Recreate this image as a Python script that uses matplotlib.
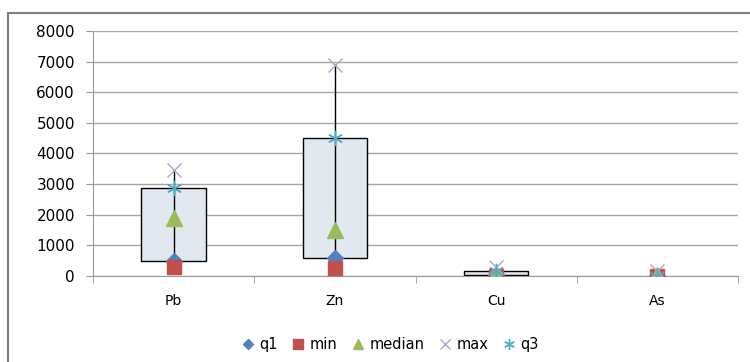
import matplotlib
matplotlib.use("Agg")
import matplotlib.pyplot as plt
from matplotlib.patches import Rectangle
import numpy as np

# data
elements = ["Pb", "Zn", "Cu", "As"]
q1 = [500, 600, 20, 10]
min_vals = [300, 270, 5, 5]
median = [1900, 1500, 60, 30]
max_vals = [3450, 6900, 280, 150]
q3 = [2870, 4500, 150, 10]

plt.rcParams['font.family'] = ['DejaVu Sans']

fig = plt.figure(figsize=(7.5, 3.62), dpi=100)
ax = fig.add_axes([0.124, 0.2376, 0.86, 0.6768])

x = np.arange(len(elements))
box_w = 0.4

# boxes (q1..q3) and hi-lo lines (min..max)
for xi, lo, hi, a, b in zip(x, min_vals, max_vals, q1, q3):
    if b > a:
        ax.add_patch(Rectangle((xi - box_w / 2, a), box_w, b - a,
                               facecolor="#e2e8f0", edgecolor="black", lw=1.0, zorder=2))
    ax.plot([xi, xi], [lo, hi], color="black", lw=1.0, zorder=3)

ax.plot(x, q1, ls="none", marker="D", ms=8, color="#4f81bd", label="q1", zorder=4)
ax.plot(x, min_vals, ls="none", marker="s", ms=10.5, color="#c0504d", label="min", zorder=4)
ax.plot(x, median, ls="none", marker="^", ms=11, color="#9bbb59", label="median", zorder=5)
ax.plot(x, max_vals, ls="none", marker="x", ms=10, mew=1.0, color="#b3a2c7", label="max", zorder=5)
ax.plot(x, q3, ls="none", marker=(6, 2, 0), ms=11, mew=1.0, color="#4bacc6", label="q3", zorder=5)

ax.set_xlim(-0.5, len(elements) - 0.5)
ax.set_ylim(0, 8000)
ax.set_yticks(np.arange(0, 8001, 1000))
ax.yaxis.grid(True, color="#a6a6a6", lw=1.0)
ax.set_axisbelow(True)

ax.set_xticks(x)
ax.set_xticklabels(elements)
ax.set_xticks(np.arange(-0.5, len(elements)), minor=True)
ax.tick_params(axis="x", which="major", length=0, pad=13, labelsize=10)
ax.tick_params(axis="x", which="minor", length=5, color="#999999", direction="out")
ax.tick_params(axis="y", length=5, color="#999999", pad=8, labelsize=11)

for s in ["top", "right"]:
    ax.spines[s].set_visible(False)
for s in ["left", "bottom"]:
    ax.spines[s].set_color("#999999")

# chart area border (only the top and left edges show in the crop)
fig.add_artist(Rectangle((0.0107, -0.1), 1.1, 1.064, transform=fig.transFigure,
                         fill=False, edgecolor="#808080", lw=1.5))

fig.legend(loc="center", bbox_to_anchor=(0.52, 0.047), ncol=5, frameon=False,
           fontsize=10.5, handlelength=0.9, handletextpad=0.3, columnspacing=1.0,
           markerscale=0.7)

fig.savefig("out.png", dpi=100)
